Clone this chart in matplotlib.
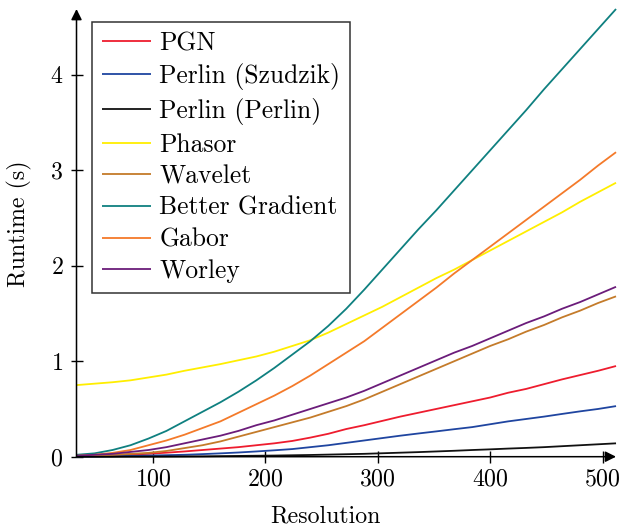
import matplotlib
matplotlib.use("Agg")
import matplotlib.pyplot as plt

plt.rcParams['font.family'] = ['cmr10', 'DejaVu Serif']
plt.rcParams['mathtext.fontset'] = 'cm'
plt.rcParams['axes.formatter.use_mathtext'] = True

resolution = [32, 48, 64, 80, 96, 112, 128, 144, 160, 176, 192, 208, 224, 240, 256, 272,
              288, 304, 320, 336, 352, 368, 384, 400, 416, 432, 448, 464, 480, 496, 512]

pgn = [0.005, 0.01, 0.015, 0.022, 0.03, 0.042, 0.055, 0.07, 0.085, 0.10, 0.12, 0.14, 0.165, 0.20, 0.24, 0.29,
       0.33, 0.375, 0.42, 0.46, 0.50, 0.54, 0.58, 0.62, 0.67, 0.71, 0.76, 0.81, 0.855, 0.90, 0.95]
perlin_szudzik = [0.0, 0.002, 0.005, 0.008, 0.012, 0.016, 0.02, 0.027, 0.035, 0.044, 0.055, 0.067, 0.08, 0.10, 0.12, 0.145,
                  0.17, 0.195, 0.22, 0.243, 0.265, 0.288, 0.31, 0.34, 0.37, 0.395, 0.42, 0.448, 0.475, 0.50, 0.53]
perlin_perlin = [0.0, 0.0, 0.0, 0.001, 0.001, 0.002, 0.003, 0.004, 0.006, 0.008, 0.01, 0.012, 0.015, 0.018, 0.022, 0.026,
                 0.03, 0.036, 0.042, 0.048, 0.055, 0.062, 0.07, 0.077, 0.085, 0.092, 0.10, 0.11, 0.12, 0.13, 0.14]
phasor = [0.75, 0.765, 0.78, 0.80, 0.83, 0.86, 0.90, 0.935, 0.97, 1.01, 1.05, 1.10, 1.16, 1.22, 1.30, 1.39,
          1.48, 1.57, 1.67, 1.77, 1.87, 1.96, 2.06, 2.16, 2.26, 2.36, 2.46, 2.56, 2.67, 2.77, 2.87]
wavelet = [0.01, 0.015, 0.02, 0.03, 0.04, 0.06, 0.09, 0.12, 0.16, 0.21, 0.26, 0.31, 0.36, 0.41, 0.47, 0.53,
           0.60, 0.68, 0.76, 0.84, 0.92, 1.00, 1.08, 1.16, 1.23, 1.31, 1.38, 1.46, 1.53, 1.61, 1.68]
better_gradient = [0.02, 0.035, 0.07, 0.12, 0.19, 0.27, 0.37, 0.47, 0.57, 0.68, 0.80, 0.93, 1.07, 1.21, 1.37, 1.55,
                   1.75, 1.96, 2.17, 2.38, 2.58, 2.79, 3.00, 3.21, 3.42, 3.63, 3.85, 4.06, 4.27, 4.48, 4.69]
gabor = [0.01, 0.02, 0.04, 0.07, 0.12, 0.17, 0.23, 0.30, 0.37, 0.46, 0.55, 0.64, 0.74, 0.85, 0.97, 1.09,
         1.21, 1.35, 1.49, 1.63, 1.77, 1.92, 2.06, 2.20, 2.34, 2.48, 2.62, 2.76, 2.90, 3.05, 3.19]
worley = [0.01, 0.02, 0.03, 0.05, 0.07, 0.10, 0.14, 0.18, 0.22, 0.27, 0.33, 0.38, 0.44, 0.50, 0.56, 0.62,
          0.69, 0.77, 0.85, 0.93, 1.01, 1.09, 1.16, 1.24, 1.32, 1.40, 1.47, 1.55, 1.62, 1.70, 1.78]

series = [
    ("PGN", pgn, '#ee1c2e'),
    ("Perlin (Szudzik)", perlin_szudzik, '#1f45a0'),
    ("Perlin (Perlin)", perlin_perlin, '#111111'),
    ("Phasor", phasor, '#ffee00'),
    ("Wavelet", wavelet, '#c47b2a'),
    ("Better Gradient", better_gradient, '#0f8080'),
    ("Gabor", gabor, '#f47a2a'),
    ("Worley", worley, '#6b1c7a'),
]

xticks = [100, 200, 300, 400, 500]
yticks = [0, 1, 2, 3, 4]

FS_LEG = 18.4
FS_AX = 17.2
W, H = 622, 527

fig = plt.figure(figsize=(6.22, 5.27), dpi=100)
ax = fig.add_axes([0.123, 0.1334, 0.8674, 0.8495])

for name, vals, col in series:
    ax.plot(resolution, vals, color=col, lw=1.3, label=name, solid_capstyle='butt', clip_on=False)

ax.set_xlim(32, 512)
ax.set_ylim(0, 4.69)
ax.set_xticks(xticks)
ax.set_yticks(yticks)
for s in ['top', 'right', 'left', 'bottom']:
    ax.spines[s].set_visible(False)

ax.tick_params(direction='inout', length=9, width=1.0, labelsize=FS_AX)
ax.tick_params(axis='x', pad=4)
ax.tick_params(axis='y', pad=5)

arrow_kw = dict(arrowstyle='-|>', lw=1.1, color='black', mutation_scale=16, shrinkA=0, shrinkB=0)
ax.annotate('', xy=(1.0, 0), xytext=(0, 0), xycoords='axes fraction', arrowprops=arrow_kw, zorder=5)
ax.annotate('', xy=(0, 1.0), xytext=(0, 0), xycoords='axes fraction', arrowprops=arrow_kw, zorder=5)

fig.text(325 / W, 1 - 522.5 / H, 'Resolution', fontsize=FS_AX, ha='center', va='baseline')
fig.text(19.5 / W, 1 - 224 / H, 'Runtime (s)', fontsize=FS_AX, ha='center', va='center', rotation=90)

leg = ax.legend(loc='upper left', bbox_to_anchor=(0.0293, 0.9716), borderaxespad=0,
                fontsize=FS_LEG, frameon=True, fancybox=False, edgecolor='black',
                handlelength=1.9, handletextpad=0.34, borderpad=0.38, labelspacing=0.31)
leg.get_frame().set_linewidth(1.1)

fig.savefig('out.png', dpi=100)
